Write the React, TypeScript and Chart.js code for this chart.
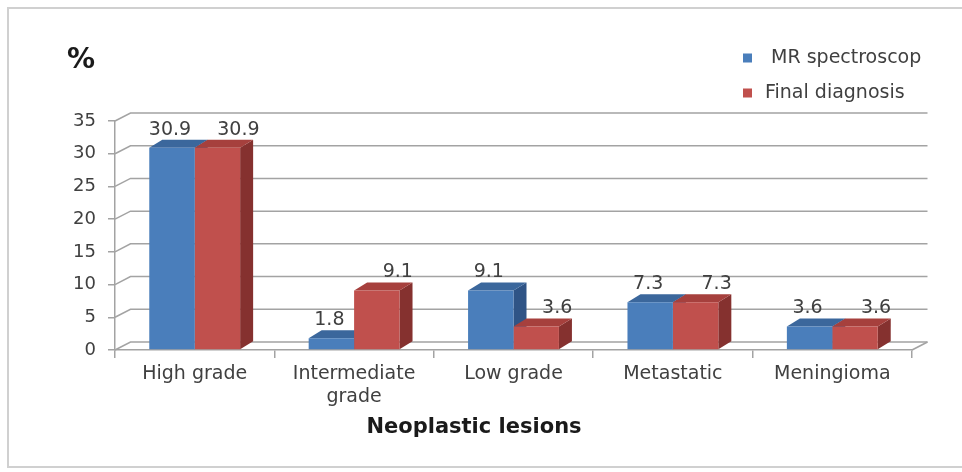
import React, { useEffect, useRef } from 'react';
import { Chart, registerables } from 'chart.js';

Chart.register(...registerables);

// ---- data ----
const categories: string[][] = [['High grade'], ['Intermediate', 'grade'], ['Low grade'], ['Metastatic'], ['Meningioma']];
const mrSpectroscopy: number[] = [30.9, 1.8, 9.1, 7.3, 3.6];
const finalDiagnosis: number[] = [30.9, 9.1, 3.6, 7.3, 3.6];
const seriesLabels: string[] = [' MR spectroscop', 'Final diagnosis'];
const yTickValues: number[] = [0, 5, 10, 15, 20, 25, 30, 35];
const yTitle = '%';
const xTitle = 'Neoplastic lesions';

// ---- styles ----
const FONT = '"DejaVu Sans", sans-serif';
const frontColors = ['#4a7ebb', '#c0504d'];
const topColors = ['#3b679c', '#a6403d'];
const sideColors = ['#2f5486', '#85312f'];
const GRID = '#a3a3a3';
const TEXT = '#404040';
const WALL_DX = 15.5;
const WALL_DY = -8;
const BAR_DX = 13;
const BAR_DY = -8;
const LABEL_DX = [-2, 21];

const threeD = {
  id: 'threeD',
  beforeDraw(chart: any) {
    const { ctx, width } = chart;
    ctx.save();
    ctx.fillStyle = '#ffffff';
    ctx.fillRect(0, 0, chart.width, chart.height);
    ctx.strokeStyle = '#d0d0d0';
    ctx.lineWidth = 2;
    ctx.beginPath();
    ctx.moveTo(width + 5, 8);
    ctx.lineTo(8, 8);
    ctx.lineTo(8, 467);
    ctx.lineTo(width + 5, 467);
    ctx.stroke();
    ctx.restore();
  },
  beforeDatasetsDraw(chart: any) {
    const { ctx, chartArea, scales } = chart;
    const { left, right, bottom } = chartArea;
    const y = scales.y;
    ctx.save();
    ctx.strokeStyle = GRID;
    ctx.lineWidth = 1.5;
    y.ticks.forEach((t: any) => {
      const py = y.getPixelForValue(t.value);
      ctx.beginPath();
      ctx.moveTo(left, py);
      ctx.lineTo(left + WALL_DX, py + WALL_DY);
      ctx.lineTo(right + WALL_DX, py + WALL_DY);
      ctx.stroke();
    });
    ctx.beginPath();
    ctx.moveTo(right, bottom);
    ctx.lineTo(right + WALL_DX, bottom + WALL_DY);
    ctx.stroke();

    chart.data.datasets.forEach((_ds: any, di: number) => {
      const meta = chart.getDatasetMeta(di);
      meta.data.forEach((bar: any) => {
        const { x, y: by, base, width } = bar.getProps(['x', 'y', 'base', 'width'], true);
        const l = x - width / 2;
        const r = x + width / 2;
        ctx.fillStyle = sideColors[di];
        ctx.beginPath();
        ctx.moveTo(r, by);
        ctx.lineTo(r + BAR_DX, by + BAR_DY);
        ctx.lineTo(r + BAR_DX, base + BAR_DY);
        ctx.lineTo(r, base);
        ctx.closePath();
        ctx.fill();
        ctx.fillStyle = topColors[di];
        ctx.beginPath();
        ctx.moveTo(l, by);
        ctx.lineTo(r, by);
        ctx.lineTo(r + BAR_DX, by + BAR_DY);
        ctx.lineTo(l + BAR_DX, by + BAR_DY);
        ctx.closePath();
        ctx.fill();
      });
    });
    ctx.restore();
  },
  afterDatasetsDraw(chart: any) {
    const { ctx } = chart;
    ctx.save();
    // data labels
    ctx.font = `19px ${FONT}`;
    ctx.fillStyle = TEXT;
    ctx.textAlign = 'center';
    ctx.textBaseline = 'middle';
    chart.data.datasets.forEach((ds: any, di: number) => {
      const meta = chart.getDatasetMeta(di);
      meta.data.forEach((bar: any, i: number) => {
        const { x, y: by } = bar.getProps(['x', 'y'], true);
        ctx.fillText(Number(ds.data[i]).toFixed(1), x + LABEL_DX[di], by - 18);
      });
    });
    // legend
    const legendY = [58, 93];
    chart.data.datasets.forEach((ds: any, di: number) => {
      ctx.fillStyle = frontColors[di];
      ctx.fillRect(743, legendY[di] - 4.5, 9, 9);
      ctx.fillStyle = TEXT;
      ctx.textAlign = 'left';
      ctx.font = `19px ${FONT}`;
      ctx.fillText(ds.label, 765, legendY[di]);
    });
    // titles
    ctx.fillStyle = '#1a1a1a';
    ctx.textAlign = 'center';
    ctx.font = `bold 28px ${FONT}`;
    ctx.fillText(yTitle, 81, 61);
    ctx.font = `bold 21px ${FONT}`;
    ctx.fillText(xTitle, 474, 428);
    ctx.restore();
  },
};

export default function App() {
  const ref = useRef<HTMLCanvasElement | null>(null);
  useEffect(() => {
    document.body.style.margin = '0';
    const canvas = ref.current;
    if (!canvas) return;
    const chart = new Chart(canvas, {
      type: 'bar',
      data: {
        labels: categories as any,
        datasets: [
          {
            label: seriesLabels[0],
            data: mrSpectroscopy,
            backgroundColor: frontColors[0],
            borderWidth: 0,
            barPercentage: 1,
            categoryPercentage: 0.57,
          },
          {
            label: seriesLabels[1],
            data: finalDiagnosis,
            backgroundColor: frontColors[1],
            borderWidth: 0,
            barPercentage: 1,
            categoryPercentage: 0.57,
          },
        ],
      },
      options: {
        responsive: false,
        devicePixelRatio: 1,
        animation: false,
        layout: { padding: { top: 121, right: 50, left: 0, bottom: 0 } },
        plugins: { legend: { display: false }, tooltip: { enabled: false }, title: { display: false } },
        scales: {
          x: {
            grid: { display: true, drawOnChartArea: false, offset: true, tickLength: 8, color: GRID, lineWidth: 1.5 },
            border: { display: true, color: GRID, width: 1.5 },
            ticks: { font: { family: FONT, size: 19 }, color: TEXT, padding: 5, maxRotation: 0, autoSkip: false },
            afterFit: (s: any) => { s.height = 122; },
          },
          y: {
            min: 0,
            max: 35,
            afterBuildTicks: (s: any) => { s.ticks = yTickValues.map((v) => ({ value: v })); },
            grid: { drawOnChartArea: false, tickLength: 7, color: GRID, lineWidth: 1.5 },
            border: { display: true, color: GRID, width: 1.5 },
            ticks: { font: { family: FONT, size: 18 }, color: TEXT, padding: 12 },
            afterFit: (s: any) => { s.width = 115; },
          },
        },
      },
      plugins: [threeD],
    });
    return () => chart.destroy();
  }, []);
  return (
    <div style={{ width: 962, height: 472 }}>
      <canvas ref={ref} width={962} height={472} style={{ display: 'block' }} />
    </div>
  );
}
